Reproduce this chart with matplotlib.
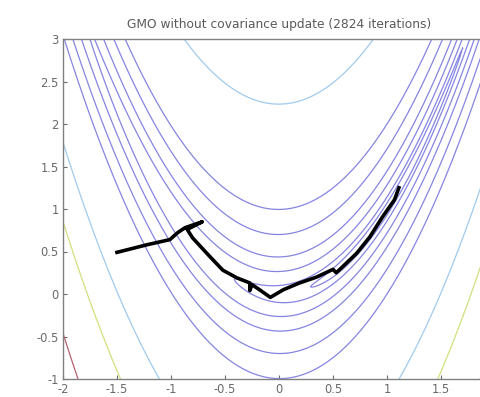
import matplotlib
matplotlib.use("Agg")
import matplotlib.pyplot as plt
import numpy as np

plt.rcParams['axes.unicode_minus'] = False

# contour levels of the Rosenbrock function and their colours
levels = [0.5, 2, 8, 20, 50, 100, 500, 1000, 2000]
level_colors = ['#8585e2'] * 6 + ['#a0cbee', '#cce27e', '#b86070']

# optimiser trajectory
path_x = [-1.50, -1.22, -1.01, -0.94, -0.87, -0.71, -0.85, -0.80, -0.64, -0.52,
          -0.39, -0.27, -0.27, -0.25, -0.18, -0.08, 0.04, 0.19, 0.35, 0.50,
          0.53, 0.58, 0.72, 0.84, 0.96, 1.07, 1.11]
path_y = [0.49, 0.58, 0.64, 0.72, 0.78, 0.85, 0.76, 0.66, 0.44, 0.28,
          0.19, 0.13, 0.04, 0.11, 0.05, -0.04, 0.05, 0.13, 0.20, 0.29,
          0.25, 0.31, 0.48, 0.67, 0.91, 1.11, 1.25]

# the tick at x=2 falls outside the cropped picture
xticks = [-2, -1.5, -1, -0.5, 0, 0.5, 1, 1.5]
yticks = [-1, -0.5, 0, 0.5, 1, 1.5, 2, 2.5, 3]

xs = np.linspace(-2, 2, 400)
ys = np.linspace(-1, 3, 400)
X, Y = np.meshgrid(xs, ys)
Z = (1 - X) ** 2 + 100 * (Y - X ** 2) ** 2

fig = plt.figure(figsize=(4.81, 3.97), dpi=100)
ax = fig.add_axes([63 / 481, 18 / 397, 432 / 481, 340 / 397])

ax.contour(X, Y, Z, levels=levels, colors=level_colors, linewidths=0.9)
ax.plot(path_x, path_y, color='black', linewidth=2.6, solid_joinstyle='round')

ax.set_xlim(-2, 2)
ax.set_ylim(-1, 3)
ax.set_xticks(xticks)
ax.set_yticks(yticks)
ax.set_xticklabels([f'{v:g}' for v in xticks])
ax.set_yticklabels([f'{v:g}' for v in yticks])
ax.tick_params(direction='in', length=3, labelsize=8.3, colors='#6a6a6a', pad=3)
for s in ax.spines.values():
    s.set_color('#808080')
    s.set_linewidth(1.0)

ax.set_title('GMO without covariance update (2824 iterations)', fontsize=8.8,
             color='#5a5a5a', pad=8)

fig.savefig('out.png', dpi=100)
